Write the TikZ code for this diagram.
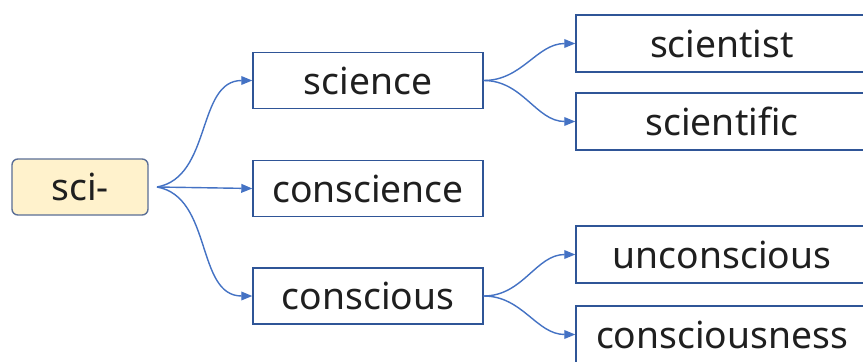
\documentclass[tikz,border=0pt]{standalone}
\usepackage{fontspec}
\setmainfont{Noto Sans}
\usetikzlibrary{arrows.meta}
\definecolor{rootfill}{RGB}{255,242,204}
\definecolor{rootline}{RGB}{90,110,150}
\definecolor{boxline}{RGB}{47,85,151}
\definecolor{linkblue}{RGB}{68,114,196}
\tikzset{
  word/.style={draw=boxline,line width=1.2pt,fill=white,inner sep=0pt,
               font=\fontsize{31.8}{36}\selectfont,text=black!88},
  root/.style={word,draw=rootline,fill=rootfill,rounded corners=5pt,
               minimum width=4.08cm,minimum height=1.68cm},
  stem/.style={word,minimum width=6.9cm,minimum height=1.68cm},
  leaf/.style={word,minimum width=8.76cm,minimum height=1.71cm},
  link/.style={draw=linkblue,line width=1.2pt,
               -{Triangle[length=3.3mm,width=2.6mm]}},
}

\begin{document}
\begin{tikzpicture}[x=0.03cm,y=-0.03cm]
  \clip (0,0) rectangle (863,361);
  \fill[white] (0,0) rectangle (863,361);

  \node[root] (sci) at (80,187) {sci-};

  \node[stem] (science)    at (368,80.5) {science};
  \node[stem] (conscience) at (368,188.5) {conscience};
  \node[stem] (conscious)  at (368,296) {conscious};

  \node[leaf] (scientist)     at (722,43.5) {scientist};
  \node[leaf] (scientific)    at (722,121.5) {scientific};
  \node[leaf] (unconscious)   at (722,254.5) {unconscious};
  \node[leaf] (consciousness) at (722,334.5) {consciousness};

  \coordinate (hub) at (157,187);
  \draw[link] (hub) to[out=10,in=180] (science.west);
  \draw[link] (hub) -- (conscience.west);
  \draw[link] (hub) to[out=-10,in=180] (conscious.west);

  \draw[link] (science.east) to[out=0,in=180] (scientist.west);
  \draw[link] (science.east) to[out=0,in=180] (scientific.west);
  \draw[link] (conscious.east) to[out=0,in=180] (unconscious.west);
  \draw[link] (conscious.east) to[out=0,in=180] (consciousness.west);
\end{tikzpicture}
\end{document}
